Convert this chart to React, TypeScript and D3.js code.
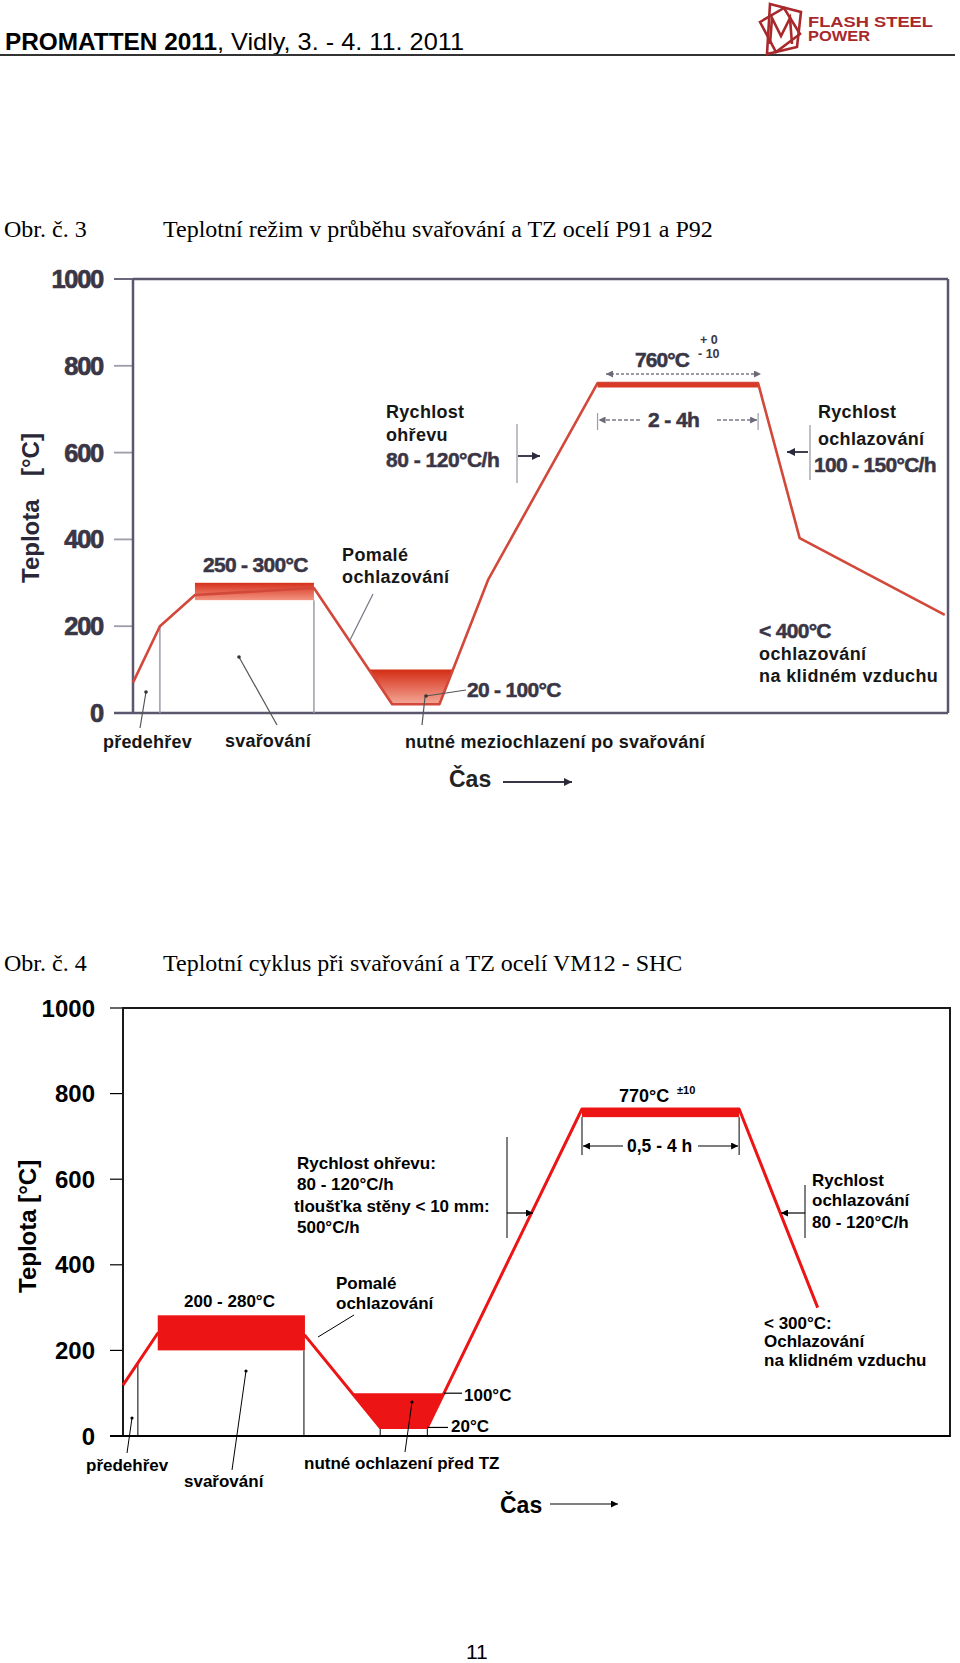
import React from "react";
import * as d3 from "d3";

// ---------- Chart 1 (Obr. č. 3) data ----------
const C1_TIME = [0, 3.3, 7.6, 22.2, 31.8, 37.6, 43.6, 57.0, 76.7, 81.8, 99.6];
const C1_TEMP = [70, 200, 272, 288, 20, 20, 308, 760, 760, 403, 226];
const C1_WELD_TIME = [7.6, 22.2];
const C1_WELD_TEMP = [260, 300];
const C1_PWHT_TIME = [57.0, 76.7];
const C1_PWHT_TEMP = [750, 760];
const C1_COOL_TEMP = [20, 100];
const C1_TICKS = [0, 200, 400, 600, 800, 1000];

// ---------- Chart 2 (Obr. č. 4) data ----------
const C2_TIME = [0, 4.2, 22.0, 31.1, 36.8, 55.5, 74.5, 84.0];
const C2_TEMP = [119, 240, 235, 20, 20, 764, 764, 300];
const C2_WELD_TIME = [4.2, 22.0];
const C2_WELD_TEMP = [200, 282];
const C2_PWHT_TIME = [55.5, 74.5];
const C2_PWHT_TEMP = [745, 764];
const C2_COOL_TEMP = [20, 100];
const C2_TICKS = [0, 200, 400, 600, 800, 1000];

const SANS = "'Liberation Sans', Arial, Helvetica, sans-serif";
const SERIF = "'Liberation Serif', 'Times New Roman', serif";

function xAtTemp(t0: number, T0: number, t1: number, T1: number, T: number) {
  return t0 + ((T - T0) / (T1 - T0)) * (t1 - t0);
}

function Chart1() {
  const x = d3.scaleLinear().domain([0, 100]).range([133, 948]);
  const y = d3.scaleLinear().domain([0, 1000]).range([713, 279]);
  const pts: [number, number][] = C1_TIME.map((t, i) => [t, C1_TEMP[i]]);
  const line = d3.line<[number, number]>().x((d) => x(d[0])).y((d) => y(d[1]));
  const curveAt = d3.scaleLinear().domain(C1_TIME).range(C1_TEMP);
  const tl = xAtTemp(C1_TIME[3], C1_TEMP[3], C1_TIME[4], C1_TEMP[4], C1_COOL_TEMP[1]);
  const tr = xAtTemp(C1_TIME[5], C1_TEMP[5], C1_TIME[6], C1_TEMP[6], C1_COOL_TEMP[1]);
  const trap: [number, number][] = [
    [tl, C1_COOL_TEMP[1]],
    [C1_TIME[4], C1_COOL_TEMP[0]],
    [C1_TIME[5], C1_COOL_TEMP[0]],
    [tr, C1_COOL_TEMP[1]],
  ];
  const trapPath = d3.line<[number, number]>().x((d) => x(d[0])).y((d) => y(d[1]))(trap) + "Z";
  const axisC = "#5c566e";
  const numC = "#3a3646";
  const txtC = "#161616";
  const grid = "#9c9cab";
  const heavy = { stroke: numC, strokeWidth: 0.5 };
  return (
    <g>
      <defs>
        <linearGradient id="g1w" x1="0" y1="0" x2="0" y2="1">
          <stop offset="0" stopColor="#d6301c" />
          <stop offset="1" stopColor="#f29480" />
        </linearGradient>
        <linearGradient id="g1c" x1="0" y1="0" x2="0" y2="1">
          <stop offset="0" stopColor="#d42c14" />
          <stop offset="1" stopColor="#f4a898" />
        </linearGradient>
      </defs>
      {C1_TICKS.map((t) => (
        <g key={t}>
          <line x1={114} x2={133} y1={y(t)} y2={y(t)} stroke={t === 1000 || t === 0 ? axisC : grid} strokeWidth={1.8} />
          <text x={103} y={y(t) + 9} textAnchor="end" fontFamily={SANS} fontWeight="bold" fontSize={25.5} letterSpacing={-1.3} fill={numC} stroke={numC} strokeWidth={0.7}>
            {t}
          </text>
        </g>
      ))}
      <line x1={133} x2={133} y1={y(1000)} y2={y(0)} stroke={axisC} strokeWidth={2.5} />
      <line x1={133} x2={948} y1={y(1000)} y2={y(1000)} stroke={axisC} strokeWidth={2.5} />
      <line x1={948} x2={948} y1={y(1000)} y2={y(0)} stroke={axisC} strokeWidth={2.5} />
      <line x1={114} x2={948} y1={y(0)} y2={y(0)} stroke={axisC} strokeWidth={2.5} />
      <line x1={x(C1_TIME[1])} x2={x(C1_TIME[1])} y1={y(curveAt(C1_TIME[1]))} y2={y(0)} stroke={grid} strokeWidth={1.5} />
      <line x1={x(C1_WELD_TIME[1])} x2={x(C1_WELD_TIME[1])} y1={y(C1_WELD_TEMP[0])} y2={y(0)} stroke={grid} strokeWidth={1.5} />
      <rect x={x(C1_WELD_TIME[0])} width={x(C1_WELD_TIME[1]) - x(C1_WELD_TIME[0])} y={y(C1_WELD_TEMP[1])} height={y(C1_WELD_TEMP[0]) - y(C1_WELD_TEMP[1])} fill="url(#g1w)" />
      <path d={trapPath} fill="url(#g1c)" />
      <path d={line(pts) || ""} fill="none" stroke="#d2483a" strokeWidth={2.6} strokeLinejoin="round" />
      <rect x={x(C1_PWHT_TIME[0])} width={x(C1_PWHT_TIME[1]) - x(C1_PWHT_TIME[0])} y={y(C1_PWHT_TEMP[1])} height={y(C1_PWHT_TEMP[0]) - y(C1_PWHT_TEMP[1])} fill="#d83a26" />
      <line x1={x(C1_PWHT_TIME[0])} x2={x(C1_PWHT_TIME[0])} y1={413} y2={430} stroke={grid} strokeWidth={1.2} />
      <line x1={x(C1_PWHT_TIME[1])} x2={x(C1_PWHT_TIME[1])} y1={413} y2={430} stroke={grid} strokeWidth={1.2} />
      <line x1={640} x2={x(C1_PWHT_TIME[0]) + 1} y1={420} y2={420} stroke="#7a7a88" strokeWidth={1.3} strokeDasharray="4,2" markerEnd="url(#ahg)" />
      <line x1={717} x2={x(C1_PWHT_TIME[1]) - 1} y1={420} y2={420} stroke="#7a7a88" strokeWidth={1.3} strokeDasharray="4,2" markerEnd="url(#ahg)" />
      <text x={648} y={427} fontFamily={SANS} fontWeight="bold" fontSize={21} letterSpacing={-0.6} fill={numC} {...heavy}>2 - 4h</text>
      <line x1={606} x2={761} y1={374} y2={374} stroke="#7a7a88" strokeWidth={1.3} strokeDasharray="3,2" markerStart="url(#ahgs)" markerEnd="url(#ahg)" />
      <text x={635} y={367} fontFamily={SANS} fontWeight="bold" fontSize={21} letterSpacing={-0.9} fill={numC} {...heavy}>760°C</text>
      <text x={700} y={344} fontFamily={SANS} fontWeight="bold" fontSize={12.5} fill={numC}>+ 0</text>
      <text x={698} y={358} fontFamily={SANS} fontWeight="bold" fontSize={12.5} fill={numC}>- 10</text>
      <text x={386} y={418} fontFamily={SANS} fontWeight="bold" fontSize={18} letterSpacing={0.3} fill={txtC}>Rychlost</text>
      <text x={386} y={441} fontFamily={SANS} fontWeight="bold" fontSize={18} letterSpacing={0.3} fill={txtC}>ohřevu</text>
      <text x={386} y={467} fontFamily={SANS} fontWeight="bold" fontSize={21} letterSpacing={-0.5} fill={numC} {...heavy}>80 - 120°C/h</text>
      <line x1={517} x2={517} y1={424} y2={483} stroke={grid} strokeWidth={1.3} />
      <line x1={518} x2={540} y1={456} y2={456} stroke="#2a2a3a" strokeWidth={1.8} markerEnd="url(#ahd)" />
      <text x={818} y={418} fontFamily={SANS} fontWeight="bold" fontSize={18} letterSpacing={0.3} fill={txtC}>Rychlost</text>
      <text x={818} y={445} fontFamily={SANS} fontWeight="bold" fontSize={18} letterSpacing={0.3} fill={txtC}>ochlazování</text>
      <text x={814} y={472} fontFamily={SANS} fontWeight="bold" fontSize={21} letterSpacing={-0.7} fill={numC} {...heavy}>100 - 150°C/h</text>
      <line x1={810} x2={810} y1={425} y2={480} stroke={grid} strokeWidth={1.3} />
      <line x1={808} x2={787} y1={452} y2={452} stroke="#2a2a3a" strokeWidth={1.8} markerEnd="url(#ahd)" />
      <text x={203} y={572} fontFamily={SANS} fontWeight="bold" fontSize={21} letterSpacing={-0.7} fill={numC} {...heavy}>250 - 300°C</text>
      <text x={342} y={561} fontFamily={SANS} fontWeight="bold" fontSize={18} letterSpacing={0.4} fill={txtC}>Pomalé</text>
      <text x={342} y={583} fontFamily={SANS} fontWeight="bold" fontSize={18} letterSpacing={0.4} fill={txtC}>ochlazování</text>
      <line x1={373} x2={350} y1={594} y2={640} stroke="#7a7a88" strokeWidth={1.2} />
      <text x={467} y={697} fontFamily={SANS} fontWeight="bold" fontSize={21} letterSpacing={-0.7} fill={numC} {...heavy}>20 - 100°C</text>
      <line x1={426} x2={466} y1={696} y2={690} stroke="#555" strokeWidth={1.2} />
      <circle cx={426} cy={696} r={1.8} fill="#333" />
      <text x={759} y={638} fontFamily={SANS} fontWeight="bold" fontSize={21} letterSpacing={-0.7} fill={numC} {...heavy}>&lt; 400°C</text>
      <text x={759} y={660} fontFamily={SANS} fontWeight="bold" fontSize={18} letterSpacing={0.4} fill={txtC}>ochlazování</text>
      <text x={759} y={682} fontFamily={SANS} fontWeight="bold" fontSize={18} letterSpacing={0.4} fill={txtC}>na klidném vzduchu</text>
      <text x={103} y={748} fontFamily={SANS} fontWeight="bold" fontSize={18} letterSpacing={0.2} fill={txtC}>předehřev</text>
      <line x1={140} x2={146} y1={728} y2={692} stroke="#555" strokeWidth={1.2} />
      <circle cx={146} cy={692} r={1.8} fill="#333" />
      <text x={225} y={747} fontFamily={SANS} fontWeight="bold" fontSize={18} letterSpacing={0.2} fill={txtC}>svařování</text>
      <line x1={277} x2={239} y1={725} y2={657} stroke="#555" strokeWidth={1.2} />
      <circle cx={239} cy={657} r={1.8} fill="#333" />
      <text x={405} y={748} fontFamily={SANS} fontWeight="bold" fontSize={18} letterSpacing={0.25} fill={txtC}>nutné meziochlazení po svařování</text>
      <line x1={422} x2={425} y1={725} y2={697} stroke="#555" strokeWidth={1.2} />
      <text x={449} y={787} fontFamily={SANS} fontWeight="bold" fontSize={23} fill="#222">Čas</text>
      <line x1={503} x2={572} y1={782} y2={782} stroke="#3a3448" strokeWidth={2} markerEnd="url(#ahd)" />
      <text transform="translate(39,583) rotate(-90)" fontFamily={SANS} fontWeight="bold" fontSize={24} fill="#2a2838">Teplota</text>
      <text transform="translate(39,476) rotate(-90)" fontFamily={SANS} fontWeight="bold" fontSize={24} fill="#2a2838">[°C]</text>
    </g>
  );
}

function Chart2() {
  const x = d3.scaleLinear().domain([0, 100]).range([123, 950]);
  const y = d3.scaleLinear().domain([0, 1000]).range([1436, 1008]);
  const pts: [number, number][] = C2_TIME.map((t, i) => [t, C2_TEMP[i]]);
  const line = d3.line<[number, number]>().x((d) => x(d[0])).y((d) => y(d[1]));
  const curveAt = d3.scaleLinear().domain(C2_TIME).range(C2_TEMP);
  const tl = xAtTemp(C2_TIME[2], C2_TEMP[2], C2_TIME[3], C2_TEMP[3], C2_COOL_TEMP[1]);
  const tr = xAtTemp(C2_TIME[4], C2_TEMP[4], C2_TIME[5], C2_TEMP[5], C2_COOL_TEMP[1]);
  const trap: [number, number][] = [
    [tl, C2_COOL_TEMP[1]],
    [C2_TIME[3], C2_COOL_TEMP[0]],
    [C2_TIME[4], C2_COOL_TEMP[0]],
    [tr, C2_COOL_TEMP[1]],
  ];
  const trapPath = d3.line<[number, number]>().x((d) => x(d[0])).y((d) => y(d[1]))(trap) + "Z";
  const red = "#ec1414";
  const k = "#000";
  return (
    <g>
      {C2_TICKS.map((t) => (
        <g key={t}>
          <line x1={110} x2={123} y1={y(t)} y2={y(t)} stroke={k} strokeWidth={1.2} />
          <text x={95} y={y(t) + 8.5} textAnchor="end" fontFamily={SANS} fontWeight="bold" fontSize={24} fill={k}>
            {t}
          </text>
        </g>
      ))}
      <rect x={123} y={y(1000)} width={950 - 123} height={y(0) - y(1000)} fill="none" stroke="#1a1a1a" strokeWidth={2} />
      <line x1={110} x2={950} y1={y(0)} y2={y(0)} stroke={k} strokeWidth={2} />
      <line x1={x(1.8)} x2={x(1.8)} y1={y(curveAt(1.8))} y2={y(0)} stroke={k} strokeWidth={1} />
      <line x1={x(C2_WELD_TIME[1]) - 1} x2={x(C2_WELD_TIME[1]) - 1} y1={y(C2_WELD_TEMP[0])} y2={y(0)} stroke={k} strokeWidth={1} />
      <line x1={x(C2_TIME[3])} x2={x(C2_TIME[3])} y1={y(C2_COOL_TEMP[0])} y2={y(0)} stroke={k} strokeWidth={1} />
      <line x1={x(C2_TIME[4])} x2={x(C2_TIME[4])} y1={y(C2_COOL_TEMP[0])} y2={y(0)} stroke={k} strokeWidth={1} />
      <path d={line(pts) || ""} fill="none" stroke={red} strokeWidth={3} strokeLinejoin="round" />
      <rect x={x(C2_WELD_TIME[0])} width={x(C2_WELD_TIME[1]) - x(C2_WELD_TIME[0])} y={y(C2_WELD_TEMP[1])} height={y(C2_WELD_TEMP[0]) - y(C2_WELD_TEMP[1])} fill={red} />
      <path d={trapPath} fill={red} />
      <rect x={x(C2_PWHT_TIME[0])} width={x(C2_PWHT_TIME[1]) - x(C2_PWHT_TIME[0])} y={y(C2_PWHT_TEMP[1])} height={y(C2_PWHT_TEMP[0]) - y(C2_PWHT_TEMP[1])} fill={red} />
      <line x1={x(tr)} x2={462} y1={y(100)} y2={y(100)} stroke={k} strokeWidth={1.2} />
      <text x={464} y={1401} fontFamily={SANS} fontWeight="bold" fontSize={17} fill={k}>100°C</text>
      <line x1={x(C2_TIME[4])} x2={448} y1={y(20)} y2={y(20)} stroke={k} strokeWidth={1.2} />
      <text x={451} y={1432} fontFamily={SANS} fontWeight="bold" fontSize={17} fill={k}>20°C</text>
      <text x={619} y={1102} fontFamily={SANS} fontWeight="bold" fontSize={18} fill={k}>770°C</text>
      <text x={677} y={1094} fontFamily={SANS} fontWeight="bold" fontSize={11} fill={k}>±10</text>
      <line x1={x(C2_PWHT_TIME[0])} x2={x(C2_PWHT_TIME[0])} y1={y(C2_PWHT_TEMP[0])} y2={1155} stroke={k} strokeWidth={1} />
      <line x1={x(C2_PWHT_TIME[1])} x2={x(C2_PWHT_TIME[1])} y1={y(C2_PWHT_TEMP[0])} y2={1155} stroke={k} strokeWidth={1} />
      <line x1={623} x2={x(C2_PWHT_TIME[0]) + 1} y1={1146} y2={1146} stroke={k} strokeWidth={1.2} markerEnd="url(#ahk)" />
      <line x1={698} x2={x(C2_PWHT_TIME[1]) - 1} y1={1146} y2={1146} stroke={k} strokeWidth={1.2} markerEnd="url(#ahk)" />
      <text x={627} y={1152} fontFamily={SANS} fontWeight="bold" fontSize={17.5} fill={k}>0,5 - 4 h</text>
      <text x={297} y={1169} fontFamily={SANS} fontWeight="bold" fontSize={17} fill={k}>Rychlost ohřevu:</text>
      <text x={297} y={1190} fontFamily={SANS} fontWeight="bold" fontSize={17} fill={k}>80 - 120°C/h</text>
      <text x={294} y={1212} fontFamily={SANS} fontWeight="bold" fontSize={17} fill={k}>tloušťka stěny &lt; 10 mm:</text>
      <text x={297} y={1233} fontFamily={SANS} fontWeight="bold" fontSize={17} fill={k}>500°C/h</text>
      <line x1={507} x2={507} y1={1137} y2={1238} stroke={k} strokeWidth={1} />
      <line x1={507} x2={533} y1={1213} y2={1213} stroke={k} strokeWidth={1.2} markerEnd="url(#ahk)" />
      <text x={812} y={1186} fontFamily={SANS} fontWeight="bold" fontSize={17} fill={k}>Rychlost</text>
      <text x={812} y={1206} fontFamily={SANS} fontWeight="bold" fontSize={17} fill={k}>ochlazování</text>
      <text x={812} y={1228} fontFamily={SANS} fontWeight="bold" fontSize={17} fill={k}>80 - 120°C/h</text>
      <line x1={805} x2={805} y1={1185} y2={1238} stroke={k} strokeWidth={1} />
      <line x1={805} x2={781} y1={1213} y2={1213} stroke={k} strokeWidth={1.2} markerEnd="url(#ahk)" />
      <text x={184} y={1307} fontFamily={SANS} fontWeight="bold" fontSize={17} fill={k}>200 - 280°C</text>
      <text x={336} y={1289} fontFamily={SANS} fontWeight="bold" fontSize={17} fill={k}>Pomalé</text>
      <text x={336} y={1309} fontFamily={SANS} fontWeight="bold" fontSize={17} fill={k}>ochlazování</text>
      <line x1={354} x2={318} y1={1315} y2={1337} stroke={k} strokeWidth={1} />
      <text x={764} y={1329} fontFamily={SANS} fontWeight="bold" fontSize={17} fill={k}>&lt; 300°C:</text>
      <text x={764} y={1347} fontFamily={SANS} fontWeight="bold" fontSize={17} fill={k}>Ochlazování</text>
      <text x={764} y={1366} fontFamily={SANS} fontWeight="bold" fontSize={17} fill={k}>na klidném vzduchu</text>
      <text x={86} y={1471} fontFamily={SANS} fontWeight="bold" fontSize={17} fill={k}>předehřev</text>
      <line x1={127} x2={132} y1={1453} y2={1418} stroke={k} strokeWidth={1} />
      <circle cx={132} cy={1418} r={1.6} fill={k} />
      <text x={184} y={1487} fontFamily={SANS} fontWeight="bold" fontSize={17} fill={k}>svařování</text>
      <line x1={232} x2={246} y1={1470} y2={1371} stroke={k} strokeWidth={1} />
      <circle cx={246} cy={1371} r={1.6} fill={k} />
      <text x={304} y={1469} fontFamily={SANS} fontWeight="bold" fontSize={17} fill={k}>nutné ochlazení před TZ</text>
      <line x1={405} x2={412} y1={1452} y2={1402} stroke={k} strokeWidth={1} />
      <circle cx={412} cy={1402} r={1.6} fill={k} />
      <text x={500} y={1513} fontFamily={SANS} fontWeight="bold" fontSize={23} fill={k}>Čas</text>
      <line x1={550} x2={618} y1={1504} y2={1504} stroke={k} strokeWidth={1.2} markerEnd="url(#ahk)" />
      <text transform="translate(36,1293) rotate(-90)" fontFamily={SANS} fontWeight="bold" fontSize={24} fill={k}>Teplota [°C]</text>
    </g>
  );
}

export default function App() {
  const maroon = "#a8282c";
  return (
    <svg width={960} height={1663} viewBox="0 0 960 1663" style={{ position: "absolute", left: 0, top: 0, background: "#fff" }}>
      <defs>
        <marker id="ahd" viewBox="0 0 10 10" refX="10" refY="5" markerWidth="10" markerHeight="8" markerUnits="userSpaceOnUse" orient="auto">
          <path d="M0,0 L10,5 L0,10 z" fill="#2a2a3a" />
        </marker>
        <marker id="ahg" viewBox="0 0 10 10" refX="10" refY="5" markerWidth="8" markerHeight="7" markerUnits="userSpaceOnUse" orient="auto">
          <path d="M0,0 L10,5 L0,10 z" fill="#6a6a78" />
        </marker>
        <marker id="ahgs" viewBox="0 0 10 10" refX="10" refY="5" markerWidth="8" markerHeight="7" markerUnits="userSpaceOnUse" orient="auto-start-reverse">
          <path d="M0,0 L10,5 L0,10 z" fill="#6a6a78" />
        </marker>
        <marker id="ahk" viewBox="0 0 10 10" refX="10" refY="5" markerWidth="8" markerHeight="7" markerUnits="userSpaceOnUse" orient="auto">
          <path d="M0,0 L10,5 L0,10 z" fill="#000" />
        </marker>
      </defs>
      <rect x={0} y={0} width={960} height={1663} fill="#fff" />
      <text x={5} y={50} fontFamily={SANS} fontWeight="bold" fontSize={24.5} textLength={212} lengthAdjust="spacingAndGlyphs" fill="#000">PROMATTEN 2011</text>
      <text x={217} y={50} fontFamily={SANS} fontSize={24.5} textLength={247} lengthAdjust="spacingAndGlyphs" fill="#000">, Vidly, 3. - 4. 11. 2011</text>
      <line x1={0} x2={955} y1={55} y2={55} stroke="#333" strokeWidth={2} />
      <g fill="none" stroke={maroon} strokeWidth={2.6} strokeLinejoin="miter">
        <path d="M770,4 L801,12 L797,47 L767,54 Z" />
        <path d="M760,22 L784,8 L800,34 L776,52 Z" />
        <path d="M770,44 L772,18 L781,36 L790,18 L792,44" />
      </g>
      <text x={808} y={27} fontFamily={SANS} fontWeight="bold" fontSize={14.5} textLength={125} lengthAdjust="spacingAndGlyphs" fill={maroon}>FLASH STEEL</text>
      <text x={808} y={41} fontFamily={SANS} fontWeight="bold" fontSize={14.5} textLength={62} lengthAdjust="spacingAndGlyphs" fill={maroon}>POWER</text>
      <text x={4} y={237} fontFamily={SERIF} fontSize={24} fill="#000">Obr. č. 3</text>
      <text x={163} y={237} fontFamily={SERIF} fontSize={24} fill="#000">Teplotní režim v průběhu svařování a TZ ocelí P91 a P92</text>
      <text x={4} y={971} fontFamily={SERIF} fontSize={24} fill="#000">Obr. č. 4</text>
      <text x={163} y={971} fontFamily={SERIF} fontSize={24} fill="#000">Teplotní cyklus při svařování a TZ ocelí VM12 - SHC</text>
      <Chart1 />
      <Chart2 />
      <text x={466} y={1659} fontFamily={SANS} fontSize={21} fill="#000">11</text>
    </svg>
  );
}
